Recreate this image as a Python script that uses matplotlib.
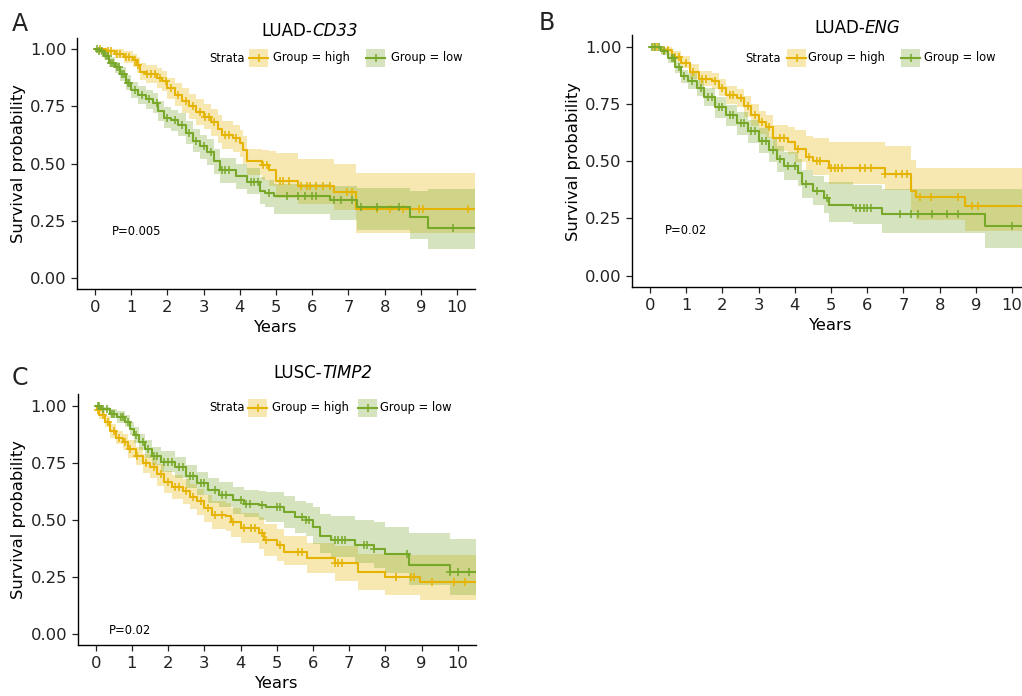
import numpy as np
import matplotlib
matplotlib.use("Agg")
import matplotlib.pyplot as plt
from matplotlib.patches import Rectangle
from matplotlib.lines import Line2D

HIGH_COL = "#E5B300"
LOW_COL = "#77A82A"
W, H = 1022, 696

# ---- panel A: LUAD-CD33 ----
a_high_t = [0, 0.3, 0.55, 0.8, 1.05, 1.15, 1.25, 1.4, 1.7, 1.85, 2.0, 2.2, 2.4, 2.6, 2.8, 3.0, 3.2, 3.4, 3.5, 3.8, 4.0, 4.1, 4.2, 4.6, 4.8, 5.0, 5.6, 6.6, 7.2]
a_high_s = [1.0, 0.99, 0.98, 0.965, 0.95, 0.93, 0.90, 0.89, 0.875, 0.86, 0.83, 0.80, 0.775, 0.75, 0.725, 0.705, 0.68, 0.65, 0.625, 0.61, 0.59, 0.56, 0.51, 0.495, 0.47, 0.425, 0.40, 0.375, 0.30]
a_high_lo = [1.0, 0.975, 0.96, 0.94, 0.92, 0.895, 0.865, 0.85, 0.83, 0.815, 0.78, 0.75, 0.72, 0.695, 0.67, 0.65, 0.62, 0.59, 0.565, 0.55, 0.53, 0.50, 0.45, 0.43, 0.40, 0.35, 0.325, 0.295, 0.195]
a_high_hi = [1.0, 1.0, 1.0, 0.99, 0.98, 0.965, 0.94, 0.93, 0.915, 0.905, 0.875, 0.85, 0.83, 0.805, 0.78, 0.76, 0.74, 0.71, 0.685, 0.67, 0.645, 0.62, 0.565, 0.56, 0.555, 0.545, 0.52, 0.50, 0.46]
a_high_cens = [0.15, 0.35, 0.45, 0.6, 0.7, 0.85, 0.95, 1.1, 1.2, 1.45, 1.55, 1.65, 1.8, 1.95, 2.1, 2.3, 2.5, 2.7, 2.9, 3.05, 3.15, 3.3, 3.6, 3.7, 3.9, 4.65, 4.75, 5.1, 5.2, 5.35, 5.7, 5.85, 5.95, 6.1, 6.3, 6.5, 6.95, 7.1, 7.8, 8.15, 8.5, 8.95, 9.05, 10.3]

a_low_t = [0, 0.1, 0.25, 0.4, 0.55, 0.7, 0.85, 1.0, 1.2, 1.4, 1.6, 1.75, 1.9, 2.1, 2.3, 2.5, 2.7, 2.9, 3.1, 3.3, 3.45, 3.9, 4.2, 4.55, 4.7, 4.95, 6.5, 7.25, 8.7, 9.2]
a_low_s = [1.0, 0.99, 0.97, 0.94, 0.92, 0.89, 0.85, 0.82, 0.80, 0.78, 0.765, 0.73, 0.70, 0.69, 0.67, 0.635, 0.60, 0.575, 0.55, 0.51, 0.47, 0.445, 0.42, 0.38, 0.37, 0.36, 0.34, 0.31, 0.265, 0.22]
a_low_lo = [1.0, 0.98, 0.955, 0.92, 0.895, 0.86, 0.82, 0.785, 0.76, 0.74, 0.72, 0.685, 0.655, 0.64, 0.62, 0.585, 0.55, 0.52, 0.495, 0.455, 0.415, 0.39, 0.365, 0.325, 0.31, 0.28, 0.255, 0.21, 0.17, 0.125]
a_low_hi = [1.0, 1.0, 0.99, 0.965, 0.945, 0.92, 0.885, 0.855, 0.84, 0.82, 0.81, 0.775, 0.745, 0.735, 0.72, 0.685, 0.65, 0.625, 0.605, 0.565, 0.525, 0.50, 0.48, 0.44, 0.43, 0.41, 0.40, 0.395, 0.38, 0.39]
a_low_cens = [0.05, 0.12, 0.2, 0.3, 0.35, 0.45, 0.5, 0.6, 0.65, 0.75, 0.8, 0.9, 0.95, 1.1, 1.3, 1.5, 1.7, 2.0, 2.2, 2.4, 2.6, 2.8, 3.0, 3.2, 3.5, 3.6, 3.7, 4.3, 4.4, 4.5, 4.8, 5.3, 5.6, 5.8, 6.0, 6.1, 6.6, 6.8, 7.1, 7.35, 7.8, 8.4, 9.9]

# ---- panel B: LUAD-ENG ----
b_high_t = [0, 0.3, 0.6, 0.85, 1.1, 1.35, 1.7, 1.9, 2.1, 2.4, 2.6, 2.8, 3.0, 3.2, 3.4, 3.8, 4.0, 4.3, 4.5, 4.95, 6.5, 7.2, 7.35, 8.7]
b_high_s = [1.0, 0.985, 0.955, 0.93, 0.89, 0.86, 0.85, 0.82, 0.79, 0.775, 0.74, 0.70, 0.67, 0.65, 0.60, 0.585, 0.555, 0.52, 0.50, 0.47, 0.445, 0.37, 0.345, 0.305]
b_high_lo = [1.0, 0.97, 0.935, 0.905, 0.86, 0.83, 0.815, 0.785, 0.75, 0.735, 0.695, 0.655, 0.62, 0.60, 0.545, 0.53, 0.495, 0.46, 0.44, 0.40, 0.375, 0.28, 0.245, 0.195]
b_high_hi = [1.0, 1.0, 0.98, 0.96, 0.925, 0.895, 0.885, 0.86, 0.83, 0.815, 0.785, 0.75, 0.72, 0.70, 0.66, 0.65, 0.635, 0.61, 0.60, 0.585, 0.565, 0.505, 0.47, 0.47]
b_high_cens = [0.1, 0.2, 0.4, 0.5, 0.7, 0.8, 1.0, 1.2, 1.45, 1.55, 1.8, 2.0, 2.2, 2.3, 2.5, 2.7, 2.9, 3.1, 3.3, 3.6, 3.7, 4.1, 4.4, 4.6, 4.7, 5.0, 5.1, 5.2, 5.3, 5.8, 5.95, 6.1, 6.5, 6.8, 6.95, 7.1, 7.45, 7.75, 8.5, 8.9, 9.05]

b_low_t = [0, 0.3, 0.5, 0.7, 0.85, 1.05, 1.3, 1.5, 1.8, 2.1, 2.4, 2.7, 3.0, 3.3, 3.5, 3.7, 4.1, 4.2, 4.5, 4.8, 4.95, 5.6, 6.4, 9.25]
b_low_s = [1.0, 0.98, 0.95, 0.91, 0.87, 0.85, 0.82, 0.78, 0.735, 0.70, 0.665, 0.63, 0.59, 0.55, 0.51, 0.48, 0.45, 0.40, 0.37, 0.34, 0.31, 0.295, 0.27, 0.215]
b_low_lo = [1.0, 0.965, 0.93, 0.885, 0.84, 0.815, 0.785, 0.74, 0.69, 0.655, 0.615, 0.58, 0.535, 0.495, 0.455, 0.42, 0.39, 0.34, 0.31, 0.275, 0.235, 0.225, 0.185, 0.12]
b_low_hi = [1.0, 0.995, 0.97, 0.935, 0.9, 0.885, 0.855, 0.82, 0.78, 0.745, 0.715, 0.68, 0.645, 0.605, 0.565, 0.54, 0.51, 0.46, 0.435, 0.41, 0.41, 0.395, 0.38, 0.38]
b_low_cens = [0.05, 0.15, 0.25, 0.4, 0.6, 0.65, 0.8, 0.95, 1.15, 1.4, 1.6, 1.7, 1.9, 2.0, 2.2, 2.3, 2.5, 2.6, 2.8, 2.9, 3.1, 3.2, 3.4, 3.6, 3.8, 4.0, 4.3, 4.6, 4.9, 5.7, 5.8, 5.9, 6.0, 6.1, 6.9, 7.2, 7.4, 7.8, 8.2, 8.5, 10.0]

# ---- panel C: LUSC-TIMP2 ----
c_high_t = [0, 0.03, 0.1, 0.25, 0.4, 0.55, 0.75, 0.9, 1.1, 1.3, 1.5, 1.7, 1.9, 2.1, 2.4, 2.6, 2.8, 3.0, 3.2, 3.6, 3.75, 4.0, 4.5, 4.65, 5.0, 5.2, 5.85, 6.6, 7.25, 8.0, 8.95]
c_high_s = [1.0, 0.98, 0.96, 0.93, 0.89, 0.86, 0.84, 0.81, 0.78, 0.75, 0.73, 0.70, 0.665, 0.645, 0.625, 0.60, 0.58, 0.55, 0.52, 0.515, 0.49, 0.465, 0.44, 0.41, 0.39, 0.36, 0.33, 0.31, 0.27, 0.25, 0.225]
c_high_lo = [1.0, 0.965, 0.94, 0.905, 0.86, 0.83, 0.805, 0.77, 0.74, 0.705, 0.685, 0.65, 0.615, 0.59, 0.57, 0.545, 0.52, 0.49, 0.46, 0.45, 0.425, 0.40, 0.37, 0.34, 0.32, 0.30, 0.265, 0.23, 0.19, 0.17, 0.15]
c_high_hi = [1.0, 0.995, 0.98, 0.955, 0.92, 0.89, 0.875, 0.85, 0.82, 0.79, 0.775, 0.745, 0.715, 0.695, 0.68, 0.655, 0.635, 0.61, 0.58, 0.575, 0.55, 0.53, 0.51, 0.48, 0.46, 0.43, 0.40, 0.385, 0.35, 0.345, 0.345]
c_high_cens = [0.05, 0.2, 0.35, 0.5, 0.65, 0.8, 0.95, 1.15, 1.4, 1.6, 1.8, 2.0, 2.2, 2.3, 2.5, 2.7, 2.9, 3.1, 3.3, 3.5, 3.8, 4.1, 4.3, 4.4, 4.6, 4.7, 5.1, 5.6, 5.7, 6.6, 6.7, 6.8, 8.3, 8.7, 8.8, 9.3, 9.9, 10.2]

c_low_t = [0, 0.15, 0.4, 0.6, 0.8, 0.95, 1.05, 1.2, 1.35, 1.55, 1.8, 2.2, 2.5, 2.8, 3.1, 3.4, 3.8, 4.1, 4.5, 4.7, 5.2, 5.5, 5.8, 6.0, 6.2, 6.5, 7.15, 7.7, 8.0, 8.65, 9.8]
c_low_s = [1.0, 0.985, 0.965, 0.95, 0.93, 0.90, 0.87, 0.84, 0.81, 0.78, 0.755, 0.73, 0.69, 0.66, 0.63, 0.61, 0.585, 0.57, 0.565, 0.555, 0.535, 0.51, 0.50, 0.47, 0.43, 0.41, 0.39, 0.37, 0.35, 0.30, 0.27]
c_low_lo = [1.0, 0.975, 0.945, 0.925, 0.905, 0.87, 0.835, 0.805, 0.77, 0.74, 0.71, 0.685, 0.64, 0.61, 0.575, 0.555, 0.525, 0.51, 0.50, 0.49, 0.465, 0.44, 0.43, 0.395, 0.355, 0.335, 0.31, 0.29, 0.265, 0.215, 0.17]
c_low_hi = [1.0, 0.995, 0.985, 0.975, 0.96, 0.93, 0.905, 0.875, 0.85, 0.82, 0.80, 0.775, 0.74, 0.71, 0.685, 0.665, 0.645, 0.63, 0.625, 0.62, 0.605, 0.58, 0.575, 0.555, 0.525, 0.515, 0.50, 0.49, 0.47, 0.44, 0.415]
c_low_cens = [0.05, 0.1, 0.2, 0.3, 0.45, 0.5, 0.7, 0.75, 0.9, 1.1, 1.3, 1.45, 1.6, 1.7, 1.9, 2.0, 2.1, 2.3, 2.4, 2.6, 2.7, 2.9, 3.0, 3.3, 3.5, 3.6, 4.0, 4.15, 4.25, 4.6, 5.0, 5.1, 5.7, 5.8, 5.9, 6.6, 6.7, 6.8, 6.9, 7.4, 7.5, 7.7, 8.6, 9.8, 10.0, 10.3]

year_ticks = list(range(0, 11))
surv_ticks = [0.0, 0.25, 0.5, 0.75, 1.0]
surv_labels = ["0.00", "0.25", "0.50", "0.75", "1.00"]
XMAX = 10.5


def fig_pt(x, y):
    # pixel position (from top-left) -> figure fraction
    return x / W, 1 - y / H


def km(ax, t, s, lo, hi, cens, col):
    tt = list(t) + [XMAX]
    ax.fill_between(tt, list(lo) + [lo[-1]], list(hi) + [hi[-1]], step="post",
                    color=col, alpha=0.3, linewidth=0)
    ax.step(tt, list(s) + [s[-1]], where="post", color=col, lw=1.5)
    idx = np.searchsorted(t, cens, side="right") - 1
    ax.plot(cens, np.array(s)[idx], ls="none", marker="+", ms=6, mew=1.1, color=col)


def panel(x0_px, y1_px, y0_px, title, tx, ty, letter, lx, ly, pval, px, py, leg_y, leg_x, series):
    ppy = 36.2
    left = x0_px - 0.5 * ppy
    right = x0_px + 10.5 * ppy
    unit = y0_px - y1_px
    top = y1_px - 0.05 * unit
    bottom = y0_px + 0.05 * unit
    ax = fig.add_axes([left / W, 1 - bottom / H, (right - left) / W, (bottom - top) / H])
    for args in series:
        km(ax, *args)
    ax.set_xlim(-0.5, 10.5)
    ax.set_ylim(-0.05, 1.05)
    ax.set_xticks(year_ticks)
    ax.set_yticks(surv_ticks)
    ax.set_yticklabels(surv_labels)
    for sp in ["top", "right"]:
        ax.spines[sp].set_visible(False)
    for sp in ["left", "bottom"]:
        ax.spines[sp].set_linewidth(1.0)
    ax.tick_params(labelsize=11.8, length=4, width=0.9, colors="#222222", labelcolor="#222222")
    ax.set_xlabel("Years", fontsize=11.8, labelpad=4)
    ax.set_ylabel("Survival probability", fontsize=11.8, labelpad=3)
    ax.set_facecolor("none")
    # title: plain prefix + italic gene name
    prefix, gene = title
    fig.text(*fig_pt(tx, ty), prefix, fontsize=12, ha="right", va="center")
    fig.text(*fig_pt(tx, ty), gene, fontsize=12, ha="left", va="center", style="italic")
    fig.text(*fig_pt(lx, ly), letter, fontsize=17, ha="left", va="center", color="#222222")
    fig.text(*fig_pt(px, py), pval, fontsize=8.3, ha="left", va="center")
    # legend
    sx, k1, g1, k2, g2 = leg_x
    fig.text(*fig_pt(sx, leg_y), "Strata", fontsize=8.3, ha="left", va="center")
    for kx, gx, col, lab in [(k1, g1, HIGH_COL, "Group = high"), (k2, g2, LOW_COL, "Group = low")]:
        bx, by = fig_pt(kx, leg_y + 9)
        fig.patches.append(Rectangle((bx, by), 19 / W, 18 / H, transform=fig.transFigure,
                                     facecolor=col, alpha=0.3, edgecolor="none"))
        cx, cy = fig_pt(kx + 9.5, leg_y)
        fig.lines.append(Line2D([bx, bx + 19 / W], [cy, cy], transform=fig.transFigure, color=col, lw=1.5))
        fig.lines.append(Line2D([cx], [cy], transform=fig.transFigure, color=col, marker="+", ms=6, mew=1.1))
        fig.text(*fig_pt(gx, leg_y), lab, fontsize=8.3, ha="left", va="center")
    return ax


fig = plt.figure(figsize=(W / 100, H / 100), dpi=100)

panel(95, 49, 278, ("LUAD-", "CD33"), 312, 31, "A", 12, 24, "P=0.005", 112, 232,
      58, (209, 249, 273, 366, 391),
      [(a_high_t, a_high_s, a_high_lo, a_high_hi, a_high_cens, HIGH_COL),
       (a_low_t, a_low_s, a_low_lo, a_low_hi, a_low_cens, LOW_COL)])

panel(650, 46.7, 275.7, ("LUAD-", "ENG"), 865, 28, "B", 539, 23, "P=0.02", 665, 231,
      58, (745, 787, 808, 901, 924),
      [(b_high_t, b_high_s, b_high_lo, b_high_hi, b_high_cens, HIGH_COL),
       (b_low_t, b_low_s, b_low_lo, b_low_hi, b_low_cens, LOW_COL)])

panel(95.7, 405.7, 633.7, ("LUSC-", "TIMP2"), 322, 373, "C", 12, 378, "P=0.02", 109, 631,
      408, (209, 248, 272, 358, 380),
      [(c_high_t, c_high_s, c_high_lo, c_high_hi, c_high_cens, HIGH_COL),
       (c_low_t, c_low_s, c_low_lo, c_low_hi, c_low_cens, LOW_COL)])

fig.savefig("out.png", dpi=100)
